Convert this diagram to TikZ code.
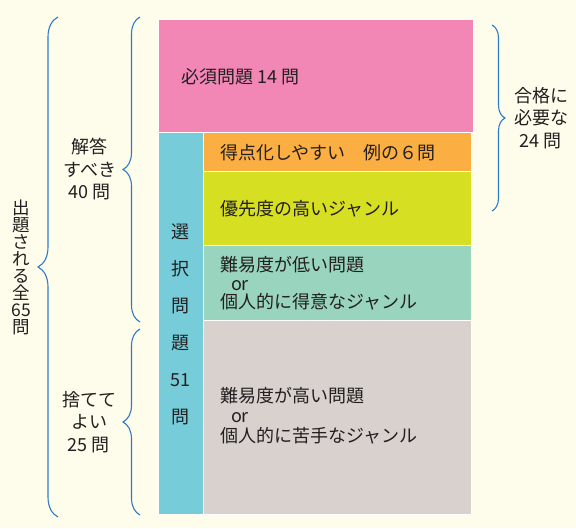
\documentclass[tikz,border=0pt]{standalone}
\usepackage{fontspec}
\setmainfont{Noto Sans CJK JP}
\usepackage{xcolor}
\usepackage{tikz}
\usetikzlibrary{positioning, calc, decorations.pathreplacing}

\definecolor{bgcream}{HTML}{FEFCEB}
\definecolor{mustpink}{HTML}{F287B6}
\definecolor{choicecyan}{HTML}{76CDD9}
\definecolor{easyorange}{HTML}{FBAE42}
\definecolor{prioyellow}{HTML}{D7DF22}
\definecolor{goodteal}{HTML}{99D5BE}
\definecolor{hardgray}{HTML}{D8D1CE}
\definecolor{braceblue}{HTML}{2E7BC4}
\definecolor{inkgray}{HTML}{231F20}

\begin{document}
\begin{tikzpicture}[
    x=1pt, y=1pt,
    every node/.style={font=\fontsize{18}{22.5}\selectfont, text=inkgray, inner sep=0pt, outer sep=0pt},
    block/.style={rectangle, draw=white, line width=1pt, minimum width=268pt},
    brace/.style={decorate, decoration={brace, amplitude=#1}, draw=braceblue, line width=1.1pt},
    note/.style={align=center},
    tight/.style={align=left, font=\fontsize{18}{18.5}\selectfont}
]

% Background
\fill[bgcream] (0,0) rectangle (576,528);
\useasboundingbox (0,0) rectangle (576,528);

% Blocks
\node[block, fill=mustpink, minimum width=315pt, minimum height=113pt, anchor=north west] (must) at (158,508) {};
\node[block, fill=choicecyan, minimum width=45pt, minimum height=381pt, below=0pt of must.south west, anchor=north west] (choice) {};
\node[block, fill=easyorange, minimum height=39pt, right=0pt of choice.north east, anchor=north west] (easy) {};
\node[block, fill=prioyellow, minimum height=74pt, below=0pt of easy.south west, anchor=north west] (prio) {};
\node[block, fill=goodteal, minimum height=75pt, below=0pt of prio.south west, anchor=north west] (good) {};
\node[block, fill=hardgray, minimum height=193pt, below=0pt of good.south west, anchor=north west] (hard) {};

% Block texts
\node[anchor=west] (musttext) at ([xshift=23pt]must.west) {必須問題\hspace{5pt}14 問};
\node[anchor=west] (easytext) at ([xshift=17pt]easy.west) {得点化しやすい　例の６問};
\node[anchor=west] (priotext) at ([xshift=17pt]prio.west) {優先度の高いジャンル};
\node[tight, anchor=west] (goodtext) at ([xshift=17pt]good.west) {難易度が低い問題\\\hspace*{11pt}or\\個人的に得意なジャンル};
\node[tight, anchor=west, font=\fontsize{18}{20}\selectfont] (hardtext) at ([xshift=17pt, yshift=2pt]hard.west) {難易度が高い問題\\\hspace*{11pt}or\\個人的に苦手なジャンル};
\node[note, font=\fontsize{18}{37}\selectfont] (choicetext) at ([yshift=-1pt]choice) {選\\択\\問\\題\\51\\問};

% Braces
\coordinate (alllow) at (58,11);
\coordinate (allhigh) at (58,511);
\coordinate (anslow) at (140,206);
\coordinate (anshigh) at (140,511);
\coordinate (droplow) at (140,13);
\coordinate (drophigh) at (140,199);
\coordinate (passhigh) at (492,503);
\coordinate (passlow) at (492,317);

\draw[brace=20] (alllow) -- (allhigh)
    node[midway, left=27pt, note, font=\fontsize{17.5}{17}\selectfont] (alltext) {出\\題\\さ\\れ\\る\\全\\65\\問};
\draw[brace=17] (anslow) -- (anshigh)
    node[midway, left=24pt, note] (anstext) {解答\\すべき\\40 問};
\draw[brace=17] (droplow) -- (drophigh)
    node[midway, left=24pt, note] (droptext) {捨てて\\よい\\25 問};
\draw[brace=13] (passhigh) -- (passlow)
    node[midway, right=22pt, note] (passtext) {合格に\\必要な\\24 問};

\end{tikzpicture}
\end{document}
